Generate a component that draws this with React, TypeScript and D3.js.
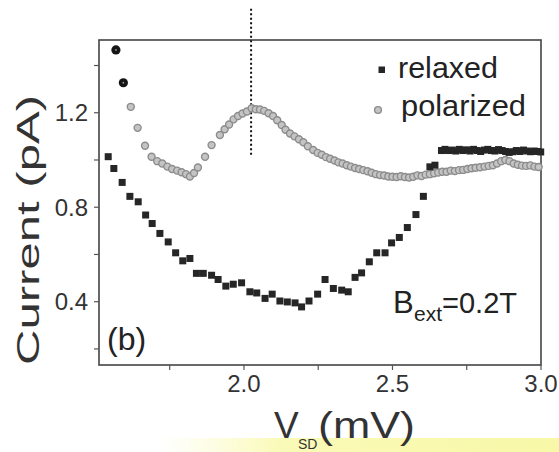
import React from "react";
import * as d3 from "d3";

// ---- data ----
const relaxedX = [1.543,1.562,1.590,1.616,1.644,1.669,1.691,1.717,1.745,1.770,1.794,1.818,1.840,1.863,1.891,1.913,1.939,1.964,1.992,2.020,2.043,2.071,2.095,2.121,2.146,2.172,2.194,2.219,2.248,2.273,2.301,2.329,2.351,2.374,2.396,2.422,2.447,2.475,2.497,2.523,2.550,2.579,2.604,2.626,2.643,2.665,2.677,2.689,2.701,2.713,2.725,2.737,2.749,2.761,2.773,2.785,2.797,2.809,2.821,2.833,2.845,2.857,2.869,2.881,2.893,2.905,2.917,2.929,2.941,2.953,2.965,2.977,2.989,2.999];
const relaxedY = [1.014,0.964,0.905,0.846,0.823,0.767,0.731,0.689,0.653,0.607,0.573,0.583,0.520,0.520,0.512,0.494,0.466,0.474,0.480,0.442,0.437,0.414,0.432,0.403,0.399,0.395,0.378,0.403,0.432,0.494,0.456,0.449,0.442,0.503,0.522,0.569,0.607,0.607,0.649,0.672,0.714,0.769,0.846,0.971,0.978,1.040,1.045,1.040,1.042,1.038,1.045,1.040,1.043,1.038,1.045,1.040,1.036,1.042,1.045,1.040,1.038,1.044,1.040,1.036,1.032,1.035,1.040,1.036,1.042,1.038,1.035,1.038,1.036,1.034];

const polarizedX = [1.569,1.594,1.619,1.642,1.667,1.689,1.708,1.725,1.742,1.758,1.775,1.790,1.805,1.818,1.832,1.845,1.869,1.891,1.919,1.935,1.950,1.965,1.980,1.995,2.010,2.026,2.040,2.054,2.068,2.083,2.098,2.112,2.127,2.140,2.155,2.170,2.185,2.200,2.215,2.233,2.248,2.262,2.276,2.290,2.305,2.318,2.332,2.346,2.360,2.374,2.388,2.402,2.416,2.430,2.444,2.458,2.472,2.486,2.500,2.514,2.528,2.542,2.556,2.570,2.584,2.598,2.612,2.626,2.640,2.654,2.668,2.682,2.696,2.710,2.724,2.738,2.752,2.766,2.780,2.795,2.810,2.824,2.838,2.852,2.866,2.880,2.894,2.908,2.922,2.936,2.950,2.964,2.978,2.992];
const polarizedY = [1.466,1.327,1.225,1.136,1.060,1.014,0.995,0.985,0.972,0.962,0.955,0.948,0.940,0.930,0.945,0.968,1.014,1.063,1.106,1.130,1.150,1.172,1.186,1.197,1.205,1.219,1.215,1.214,1.208,1.198,1.186,1.168,1.148,1.128,1.112,1.100,1.088,1.075,1.058,1.042,1.030,1.022,1.012,1.005,0.998,0.990,0.985,0.978,0.972,0.966,0.962,0.957,0.952,0.946,0.940,0.936,0.934,0.930,0.929,0.928,0.931,0.928,0.926,0.929,0.935,0.932,0.938,0.940,0.944,0.947,0.950,0.950,0.955,0.953,0.957,0.958,0.962,0.965,0.967,0.969,0.972,0.975,0.978,0.985,0.995,1.000,0.995,0.985,0.980,0.976,0.975,0.977,0.972,0.970];

const xMajorTicks = [2.0, 2.5, 3.0];
const xMinorTicks = [1.75, 2.25, 2.75];
const yMajorTicks = [0.4, 0.8, 1.2];
const yMinorTicks = [0.2, 0.6, 1.0, 1.4];
const markerLineX = 2.024;
const markerLineY = [1.02, 1.64];

const W = 559, H = 452;
const L = 99, R = 541, T = 40, B = 365;

export default function App() {
  const x = d3.scaleLinear().domain([1.512, 3.0]).range([L, R]);
  const y = d3.scaleLinear().domain([0.132, 1.508]).range([B, T]);
  const font = "'Liberation Sans', Arial, sans-serif";
  const relaxed = relaxedX.map((v, i) => [v, relaxedY[i]]);
  const polarized = polarizedX.map((v, i) => [v, polarizedY[i]]);
  const sq = 7;
  return (
    <svg width={W} height={H} style={{ position: "absolute", left: 0, top: 0, background: "#fff" }} fontFamily={font}>
      <defs>
        <linearGradient id="yl" x1="0" x2="1" y1="0" y2="0">
          <stop offset="0" stopColor="#fbfbc8" stopOpacity="0" />
          <stop offset="0.3" stopColor="#fafab8" stopOpacity="1" />
          <stop offset="1" stopColor="#f8f8a8" stopOpacity="1" />
        </linearGradient>
      </defs>
      <rect x={160} y={438} width={399} height={14} fill="url(#yl)" />
      {/* frame */}
      <rect x={L} y={T} width={R - L} height={B - T} fill="none" stroke="#444" strokeWidth={1.6} />
      {/* ticks */}
      {xMajorTicks.concat(xMinorTicks).map((t) => (
        <line key={"xt" + t} x1={x(t)} x2={x(t)} y1={B} y2={B + 5} stroke="#555" strokeWidth={1.2} />
      ))}
      {yMajorTicks.concat(yMinorTicks).map((t) => (
        <line key={"yt" + t} x1={L - 5} x2={L} y1={y(t)} y2={y(t)} stroke="#555" strokeWidth={1.2} />
      ))}
      {xMajorTicks.map((t) => (
        <text key={"xl" + t} x={x(t)} y={392} fontSize={24} textAnchor="middle" fill="#333">{t.toFixed(1)}</text>
      ))}
      {yMajorTicks.map((t) => (
        <text key={"yl" + t} x={88} y={y(t) + 8.5} fontSize={24} textAnchor="end" fill="#333">{t.toFixed(1)}</text>
      ))}
      {/* axis titles */}
      <text transform="translate(39,230) rotate(-90)" fontSize={32} textAnchor="middle" fill="#333" textLength={270} lengthAdjust="spacingAndGlyphs">Current (pA)</text>
      <text x={274} y={438} fontSize={37} fill="#333">V</text>
      <text x={298} y={448.5} fontSize={14} fill="#333">SD</text>
      <text x={318} y={438} fontSize={37} fill="#333" textLength={97} lengthAdjust="spacingAndGlyphs">(mV)</text>
      {/* dotted marker line */}
      <line x1={x(markerLineX)} x2={x(markerLineX)} y1={y(markerLineY[1])} y2={y(markerLineY[0])} stroke="#111" strokeWidth={2} strokeDasharray="2,2.5" />
      {/* polarized */}
      {polarized.map((d, i) => (
        i < 2 ? (
          <g key={"p" + i}>
            <circle cx={x(d[0])} cy={y(d[1])} r={4.6} fill="#151515" />
            <circle cx={x(d[0])} cy={y(d[1])} r={0.9} fill="#999" />
          </g>
        ) : (
          <circle key={"p" + i} cx={x(d[0])} cy={y(d[1])} r={3.5} fill="#c4c4c4" stroke="#8c8c8c" strokeWidth={1.4} />
        )
      ))}
      {/* relaxed */}
      {relaxed.map((d, i) => (
        <rect key={"r" + i} x={x(d[0]) - sq / 2} y={y(d[1]) - sq / 2} width={sq} height={sq} fill="#262626" />
      ))}
      {/* legend */}
      <rect x={378.5} y={66.5} width={6.5} height={6.5} fill="#262626" />
      <text x={398} y={78} fontSize={29} fill="#222" textLength={100} lengthAdjust="spacingAndGlyphs">relaxed</text>
      <circle cx={378} cy={110} r={3.4} fill="#c4c4c4" stroke="#8c8c8c" strokeWidth={1.4} />
      <text x={401} y={116} fontSize={29} fill="#222" textLength={125} lengthAdjust="spacingAndGlyphs">polarized</text>
      {/* annotations */}
      <text x={107} y={350} fontSize={32} fill="#222">(b)</text>
      <text x={393} y={313} fontSize={31} fill="#222">B</text>
      <text x={414} y={321} fontSize={21} fill="#222">ext</text>
      <text x={442} y={313} fontSize={30} fill="#222" textLength={75} lengthAdjust="spacingAndGlyphs">=0.2T</text>
    </svg>
  );
}
